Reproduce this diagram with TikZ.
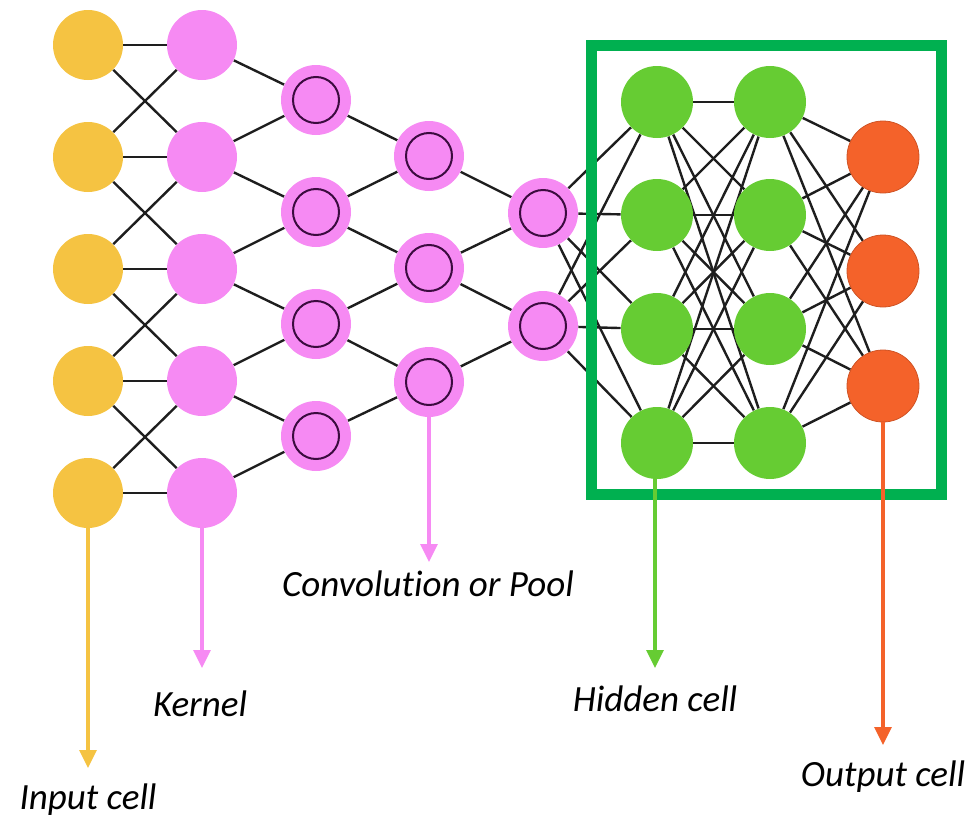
\documentclass[tikz,border=0pt]{standalone}
\usepackage{fontspec}
\setmainfont{Carlito}[Ligatures=NoCommon]
\usepackage{tikz}
\usetikzlibrary{arrows.meta,positioning,backgrounds}
\definecolor{inyellow}{HTML}{F5C342}
\definecolor{kpink}{HTML}{F68AF3}
\definecolor{ringpurple}{HTML}{3B0B3F}
\definecolor{hgreen}{HTML}{66CC33}
\definecolor{ored}{HTML}{F4622A}
\definecolor{boxgreen}{HTML}{00B050}
\definecolor{edgegray}{HTML}{1E1E1E}

\begin{document}
\begin{tikzpicture}[x=0.5pt,y=-0.5pt,
  cell/.style={circle,inner sep=0pt,minimum size=35pt},
  incell/.style={cell,fill=inyellow},
  kerncell/.style={cell,fill=kpink},
  convcell/.style={cell,fill=kpink,
    path picture={\draw[ringpurple,line width=1pt]
      (path picture bounding box.center) circle (11.5pt);}},
  hidcell/.style={cell,fill=hgreen,minimum size=36pt},
  outcell/.style={cell,fill=ored,draw=ored!85!black,thin,minimum size=36pt},
  link/.style={edgegray,line width=1.2pt},
  pointer/.style={-{Triangle[length=9pt,width=8.5pt]},line width=1.6pt},
  caption/.style={font=\itshape\fontsize{18.5}{22}\selectfont}]
  \useasboundingbox (0,0) rectangle (969,819);

  % Cells
  \foreach \y [count=\i] in {45,157,269,381,493} {
    \node[incell] (in\i) at (88,\y) {};
    \node[kerncell] (kn\i) at (202,\y) {};
  }
  \foreach \y [count=\i] in {100,212,324,436}
    \node[convcell] (ca\i) at (316,\y) {};
  \foreach \y [count=\i] in {156,268,382}
    \node[convcell] (cb\i) at (429,\y) {};
  \foreach \y [count=\i] in {213,326}
    \node[convcell] (cc\i) at (543,\y) {};
  \foreach \y [count=\i] in {102,215,329,443} {
    \node[hidcell] (ha\i) at (657,\y) {};
    \node[hidcell] (hb\i) at (770,\y) {};
  }
  \foreach \y [count=\i] in {157,271,386}
    \node[outcell] (out\i) at (883,\y) {};

  % Connections
  \begin{scope}[on background layer]
    \foreach \i in {1,...,5}
      \draw[link] (in\i) -- (kn\i);
    \foreach \i in {1,...,4} {
      \pgfmathtruncatemacro{\j}{\i+1}
      \draw[link] (in\i) -- (kn\j);
      \draw[link] (in\j) -- (kn\i);
      \draw[link] (kn\i) -- (ca\i);
      \draw[link] (kn\j) -- (ca\i);
    }
    \foreach \i in {1,...,3} {
      \pgfmathtruncatemacro{\j}{\i+1}
      \draw[link] (ca\i) -- (cb\i);
      \draw[link] (ca\j) -- (cb\i);
    }
    \foreach \i in {1,2} {
      \pgfmathtruncatemacro{\j}{\i+1}
      \draw[link] (cb\i) -- (cc\i);
      \draw[link] (cb\j) -- (cc\i);
    }
    \foreach \i in {1,2}
      \foreach \j in {1,...,4}
        \draw[link] (cc\i) -- (ha\j);
    \foreach \i in {1,...,4}
      \foreach \j in {1,...,4}
        \draw[link] (ha\i) -- (hb\j);
    \foreach \i in {1,...,4}
      \foreach \j in {1,2,3}
        \draw[link] (hb\i) -- (out\j);
  \end{scope}

  % Dense part frame
  \draw[boxgreen,line width=5.5pt] (591,45) rectangle (941,494);

  % Pointers and captions
  \coordinate (inend) at (88,768);
  \coordinate (knend) at (202,668);
  \coordinate (cvend) at (429,562);
  \coordinate (hdend) at (655,668);
  \coordinate (otend) at (883,745);
  \draw[pointer,inyellow] (in5) -- (inend);
  \draw[pointer,kpink] (kn5) -- (knend);
  \draw[pointer,kpink] (cb3) -- (cvend);
  \draw[pointer,hgreen] (ha4.south -| hdend) -- (hdend);
  \draw[pointer,ored] (out3) -- (otend);
  \node[caption] (inlab) at (88,800) {Input cell};
  \node[caption] (knlab) at (200,704) {Kernel};
  \node[caption] (cvlab) at (428,584) {Convolution or Pool};
  \node[caption] (hdlab) at (655,699) {Hidden cell};
  \node[caption] (otlab) at (883,777) {Output cell};
\end{tikzpicture}
\end{document}
